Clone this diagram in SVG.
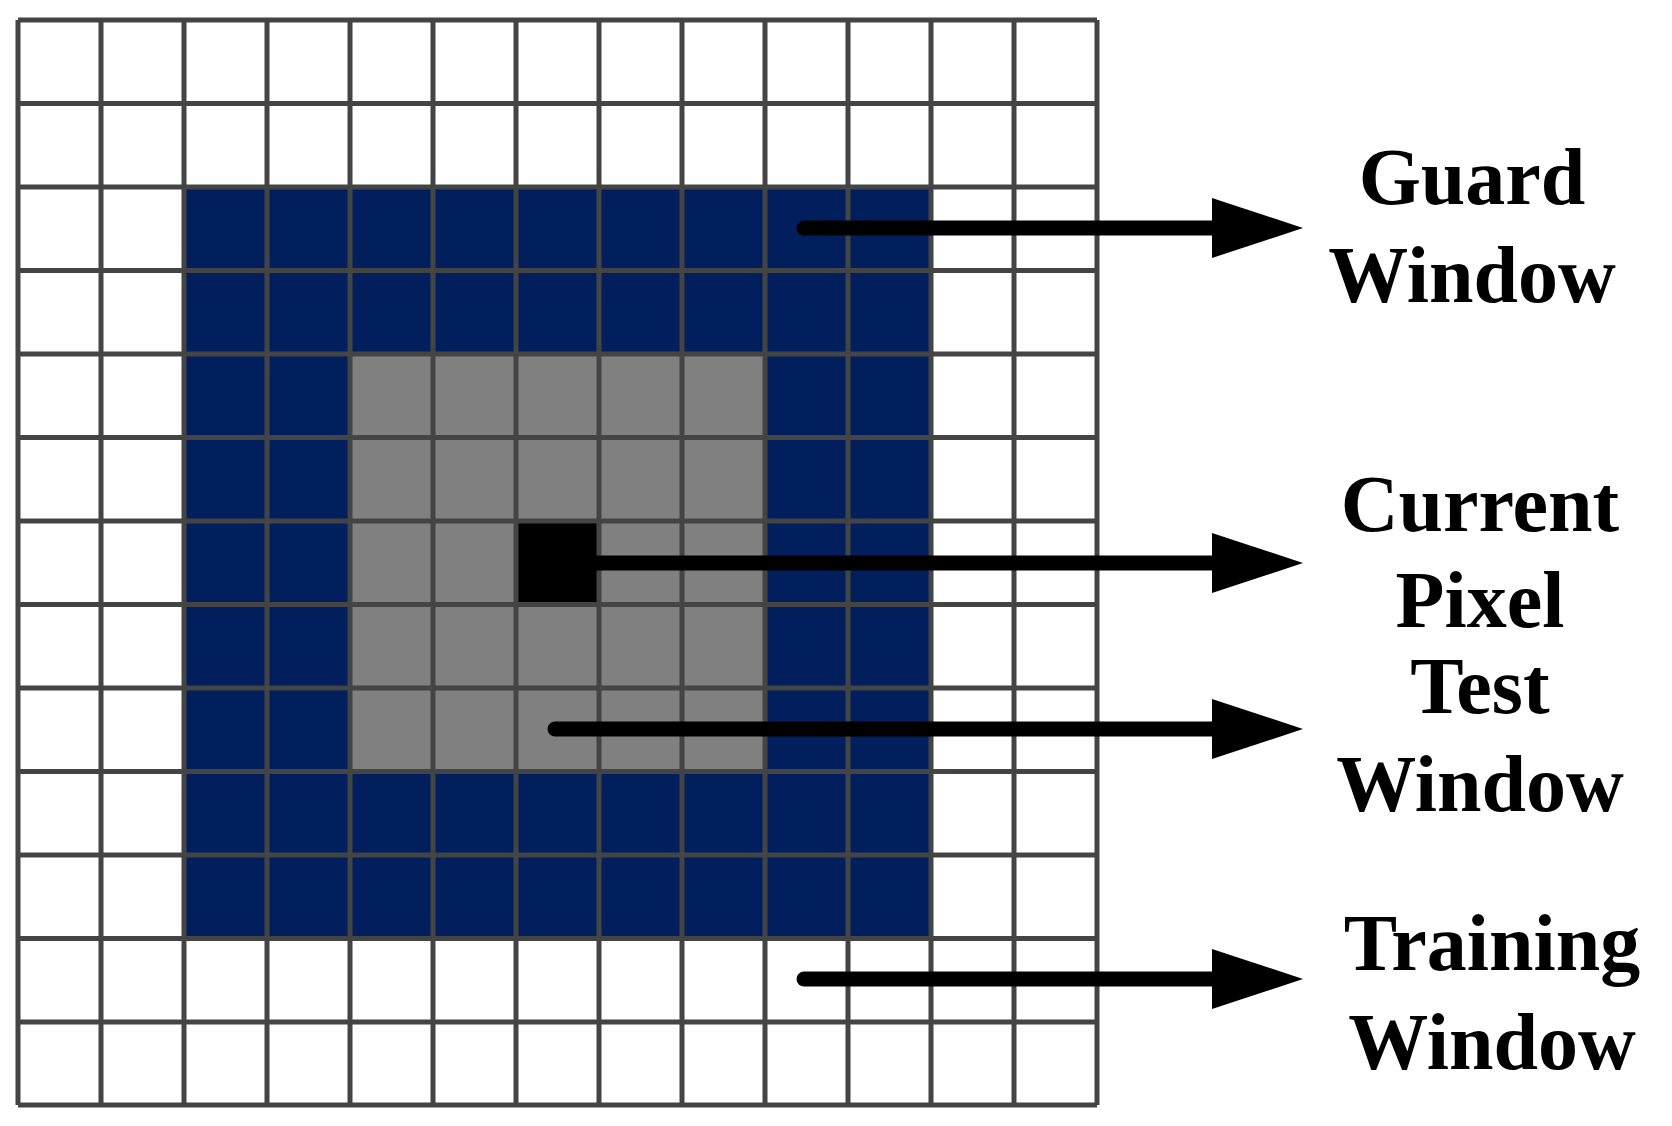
<svg xmlns="http://www.w3.org/2000/svg" width="1672" height="1126" viewBox="0 0 1672 1126">
<style>
.t{font-family:"Liberation Serif","DejaVu Serif",serif;font-weight:bold;font-size:80px;fill:#000;text-anchor:middle}
.c{stroke:#000;stroke-width:15;stroke-linecap:round;fill:none}
.g{stroke:#444;stroke-width:5;fill:none}
</style>
<rect width="1672" height="1126" fill="#fff"/>
<g id="training"><rect x="18" y="20" width="1079" height="1085" fill="#fff"/></g>
<g id="guard"><rect x="184" y="187" width="747" height="751" fill="#001f5c"/></g>
<g id="test"><rect x="350" y="354" width="415" height="417" fill="#808080"/></g>
<g id="pixel"><rect x="516" y="521" width="83" height="83.5" fill="#000"/></g>
<g id="gridlines" class="g">
<path d="M18 20V1105M101 20V1105M184 20V1105M267 20V1105M350 20V1105M433 20V1105M516 20V1105M599 20V1105M682 20V1105M765 20V1105M848 20V1105M931 20V1105M1014 20V1105M1097 20V1105"/>
<path d="M18 20H1097M18 103.5H1097M18 187H1097M18 270.5H1097M18 354H1097M18 437.5H1097M18 521H1097M18 604.5H1097M18 688H1097M18 771.5H1097M18 855H1097M18 938.5H1097M18 1022H1097M18 1105H1097"/>
</g>
<g id="connectors">
<line x1="804" y1="228" x2="1225" y2="228" class="c"/><polygon points="1212,198 1303,228 1212,258"/>
<line x1="596" y1="563" x2="1225" y2="563" class="c"/><polygon points="1212,533 1303,563 1212,593"/>
<line x1="555" y1="729" x2="1225" y2="729" class="c"/><polygon points="1212,699 1303,729 1212,759"/>
<line x1="804" y1="979" x2="1225" y2="979" class="c"/><polygon points="1212,949 1303,979 1212,1009"/>
</g>
<g id="labels">
<text class="t" x="1472" y="204">Guard</text><text class="t" x="1472" y="302">Window</text>
<text class="t" x="1480" y="531">Current</text><text class="t" x="1480" y="627">Pixel</text>
<text class="t" x="1480" y="713">Test</text><text class="t" x="1480" y="811">Window</text>
<text class="t" x="1492" y="970">Training</text><text class="t" x="1492" y="1069">Window</text>
</g>
</svg>
